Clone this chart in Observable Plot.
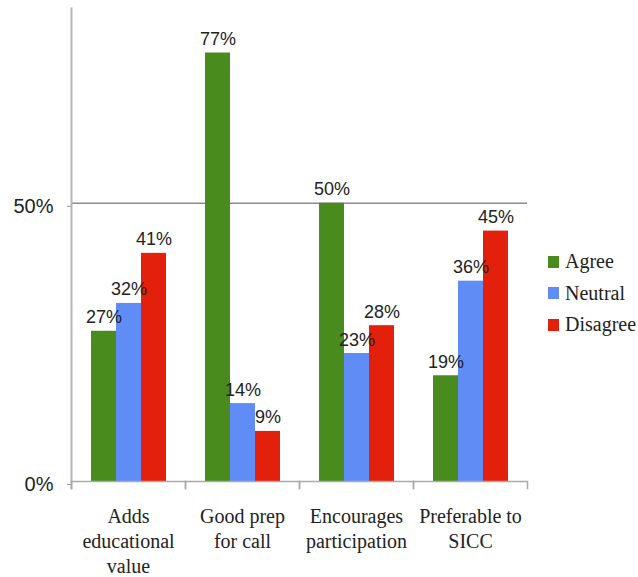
<!DOCTYPE html>
<html><head><meta charset="utf-8">
<script src="https://cdn.jsdelivr.net/npm/d3@7"></script>
<script src="https://cdn.jsdelivr.net/npm/@observablehq/plot@0.6"></script>
<style>
html,body{margin:0;padding:0;background:#fff;overflow:hidden}
#wrap{position:relative;width:638px;height:577px}
#legend{position:absolute;left:548px;top:246px;font-family:"Liberation Serif","Tinos","DejaVu Serif","Noto Serif",serif;font-size:20px;color:#222;white-space:nowrap}
.row{display:flex;align-items:center;height:31.5px}
.sw{width:11px;height:12px;margin-right:6px;flex:none}
</style></head><body><div id="wrap"></div>
<script>
const categories = ["Adds\neducational\nvalue", "Good prep\nfor call", "Encourages\nparticipation", "Preferable to\nSICC"];
const responses = ["Agree", "Neutral", "Disagree"];
const agree = [27, 77, 50, 19];
const neutral = [32, 14, 23, 36];
const disagree = [41, 9, 28, 45];
const colors = ["#4a8b1d", "#5f8cf5", "#e3200b"];
const yTicks = [0, 50];
const yMax = 85;

const series = [agree, neutral, disagree];
const data = [];
categories.forEach((c, i) => series.forEach((s, j) => data.push({category: c, response: responses[j], value: s[i]})));

const W = 638, H = 577, mT = 8, mB = 96, mL = 70, mR = 110;
const plotH = H - mT - mB;
const serif = '"Liberation Serif", Tinos, "DejaVu Serif", "Noto Serif", serif';

const chart = Plot.plot({
  width: W, height: H, marginTop: mT, marginBottom: mB, marginLeft: mL, marginRight: mR,
  style: {fontFamily: '"Liberation Sans", Arial, sans-serif', fontSize: "18px", color: "#222", background: "#fff"},
  fx: {domain: categories, padding: 0, axis: null},
  x: {domain: responses, paddingInner: 0, paddingOuter: 0.75, axis: null},
  y: {domain: [0, yMax], axis: null},
  color: {domain: responses, range: colors},
  marks: [
    Plot.ruleY([50], {stroke: "#8c8c8c", strokeWidth: 1.5}),
    Plot.barY(data, {fx: "category", x: "response", y: "value", fill: "response"}),
    Plot.ruleY([0], {stroke: "#aaa", strokeWidth: 1.5}),
    Plot.frame({anchor: "left", facetAnchor: "left", stroke: "#b5b5b5", strokeWidth: 2, insetBottom: -7}),
    Plot.frame({anchor: "left", insetTop: plotH, insetBottom: -7, stroke: "#aaa", strokeWidth: 1.5}),
    Plot.frame({anchor: "right", insetTop: plotH, insetBottom: -7, stroke: "#aaa", strokeWidth: 1.5}),
    Plot.axisY({ticks: yTicks, tickFormat: d => d + "%", label: null, tickSize: 4, tickPadding: 14, fontSize: 20, stroke: "#999", fill: "#222", dy: 3}),
    Plot.text(data, {fx: "category", x: "response", y: "value", text: d => d.value + "%", lineAnchor: "bottom", dy: -8, fontSize: 18, fill: "#222"}),
    Plot.text(categories, {fx: d => d, text: d => d, frameAnchor: "bottom", lineAnchor: "top", dy: 24, lineHeight: 1.25,
      fontFamily: serif, fontSize: 20, fill: "#222"})
  ]
});
const wrap = document.getElementById("wrap");
wrap.appendChild(chart);

const legend = document.createElement("div");
legend.id = "legend";
responses.forEach((r, i) => {
  const row = document.createElement("div");
  row.className = "row";
  const sw = document.createElement("span");
  sw.className = "sw";
  sw.style.background = colors[i];
  const t = document.createElement("span");
  t.textContent = r;
  row.appendChild(sw); row.appendChild(t);
  legend.appendChild(row);
});
wrap.appendChild(legend);
</script></body></html>
